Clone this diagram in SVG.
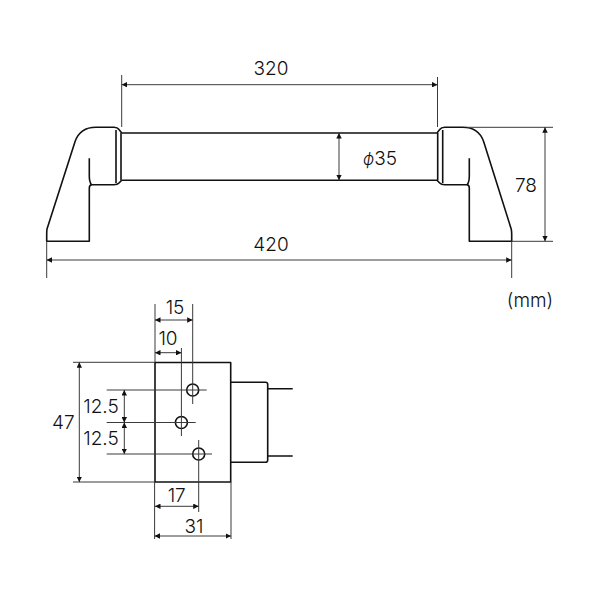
<svg xmlns="http://www.w3.org/2000/svg" width="600" height="600" viewBox="0 0 600 600">
<defs>
<marker id="a" viewBox="0 0 10 10" refX="10" refY="5" markerWidth="5.5" markerHeight="5.5" markerUnits="userSpaceOnUse" orient="auto-start-reverse"><path d="M0 0L10 5L0 10Z" fill="#111"/></marker>
<style>
.o{fill:none;stroke:#111;stroke-width:1.6;stroke-linejoin:round}
.d{fill:none;stroke:#3a3a3a;stroke-width:1}
.e{stroke:#3a3a3a;stroke-width:1;fill:none;marker-start:url(#a);marker-end:url(#a)}
text{font-family:"Inter","Liberation Sans",sans-serif;font-size:19px;font-weight:300;fill:#111;text-anchor:middle}
</style>
</defs>
<rect width="600" height="600" fill="#fff"/>
<g id="handle">
<path class="o" d="M121.7 133H437M121.7 180.3H437"/>
<g id="bracket-left"><path class="o" d="M121.7 133L119 129.5Q117.5 127.3 114 127.3H96Q80 127.3 75 141.7L47 229Q46.7 231 46.7 234V241.3H89.3V188Q89.3 184.7 92 184.7H114Q117.5 184.7 119 183L121.7 180.3M116 130V183M121 133V180.3M89.3 158.3V176Q89.3 182 91.5 184.7"/></g>
<g id="bracket-right"><path class="o" d="M437 133L439.7 129.5Q441.2 127.3 444.7 127.3H462.7Q478.7 127.3 483.7 141.7L511.2 229Q511.7 231 511.7 234V241.3H469.3V188Q469.3 184.7 466.7 184.7H444.7Q441.2 184.7 439.7 183L437 180.3M442.7 130V183M437.7 133V180.3M469.3 158.3V176Q469.3 182 467.2 184.7"/></g>
</g>
<g id="mount">
<path class="o" d="M155 362.5H230.7V482H155ZM230.7 382.3H265.5Q267.7 382.3 267.7 384.5V460Q267.7 462.3 265.5 462.3H230.7M267.7 388.7H292.7M267.7 456H292.7"/>
<g id="hole1"><circle class="o" cx="192.7" cy="390" r="6"/></g>
<g id="hole2"><circle class="o" cx="181.4" cy="422.5" r="6"/></g>
<g id="hole3"><circle class="o" cx="198.7" cy="454" r="6"/></g>
</g>
<g id="connectors">
<path class="d" d="M121.7 75V127M437.5 77V127M467 127.3H553M511.7 241.3H553M46.7 241.3V278M511.7 241.3V278"/>
<path class="e" d="M121.7 84.7H437.5"/>
<path class="e" d="M46.7 260H511.7"/>
<path class="e" d="M545 127.3V241.3"/>
<path class="e" d="M339 133V180.3"/>
<path class="d" d="M155 304V362M192.7 304V404M181.4 348V436M198.7 440V512M106.7 390H206.7M106.7 422.5H195.7M106.7 454H212M73 362.3H155M73 482H155M154.6 482V539M231 482V539"/>
<path class="e" d="M155 320H192.7"/>
<path class="e" d="M155 352.7H181.4"/>
<path class="e" d="M79.3 362.3V482"/>
<path class="e" d="M124.3 390V422.5"/>
<path class="e" d="M124.3 422.5V454"/>
<path class="e" d="M155 506.3H198.7"/>
<path class="e" d="M154.6 536H231"/>
</g>
<g id="labels">
<text x="271" y="75">320</text>
<text x="271" y="251">420</text>
<text x="526" y="192">78</text>
<text x="380" y="165"><tspan font-style="italic" font-size="17">ϕ</tspan>35</text>
<text x="530" y="307">(mm)</text>
<text x="175" y="314">15</text>
<text x="168" y="345">10</text>
<text x="63.3" y="429">47</text>
<text x="101" y="413">12.5</text>
<text x="101" y="445">12.5</text>
<text x="176.7" y="501.7">17</text>
<text x="194" y="532.7">31</text>
</g>
</svg>
